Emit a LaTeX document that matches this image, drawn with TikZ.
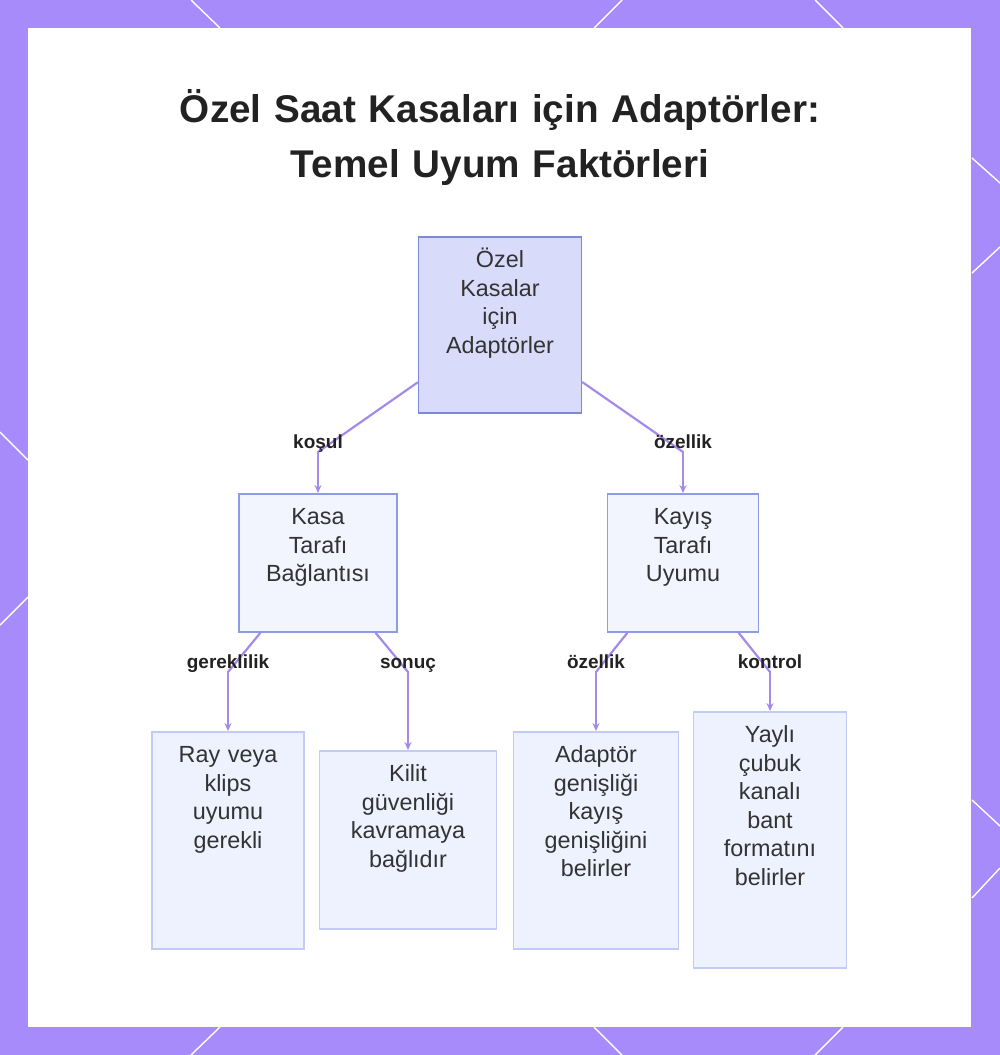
\documentclass[tikz,border=0pt]{standalone}
\usepackage{fontspec}
\setsansfont{Liberation Sans}
\usetikzlibrary{arrows.meta}
\definecolor{framepurple}{HTML}{A78BFA}
\definecolor{connline}{HTML}{A48BEB}
\definecolor{rootfill}{HTML}{D8DBFA}
\definecolor{rootline}{HTML}{7C88DA}
\definecolor{midfill}{HTML}{F2F4FE}
\definecolor{midline}{HTML}{8E9CE6}
\definecolor{leaffill}{HTML}{EEF1FE}
\definecolor{leafline}{HTML}{C2CAF6}
\definecolor{nodetext}{HTML}{333333}
\definecolor{titletext}{HTML}{222222}
\begin{document}
\begin{tikzpicture}[x=0.02cm,y=-0.02cm,
	main node/.style={rectangle,draw,anchor=north,inner sep=0pt,align=center,text height=0.62cm,line width=1.1pt,text=nodetext,font=\sffamily\fontsize{13.3}{16.2}\selectfont},
	root node/.style={main node,fill=rootfill,draw=rootline},
	mid node/.style={main node,fill=midfill,draw=midline},
	leaf node/.style={main node,fill=leaffill,draw=leafline},
	conn/.style={draw=connline,line width=1.25pt,line cap=round},
	arrowed/.style={-{Stealth[length=4.5pt,width=4pt]}},
	lbl/.style={anchor=base,yshift=2pt,inner sep=0pt,text=titletext,font=\sffamily\bfseries\fontsize{10.8}{13}\selectfont},
	slash/.style={white,line width=0.8pt}]
				\useasboundingbox (0,0) rectangle (1000,1055);
				\fill[framepurple] (0,0) rectangle (1000,1055);
				\draw[slash] (191,0) -- (220,28) (622,0) -- (594,28) (815,0) -- (843,28);
				\draw[slash] (220,1027) -- (191,1055) (594,1027) -- (622,1055) (843,1027) -- (815,1055);
				\draw[slash] (0,432) -- (28,460) (28,597) -- (0,625);
				\draw[slash] (972,158) -- (1000,183) (972,273) -- (1000,247) (972,800) -- (1000,826) (972,898) -- (1000,868);
				\fill[white] (28,28) rectangle (971,1027);

				\node[anchor=north,inner sep=0pt,align=center,text width=16cm,text height=0.68cm,text=titletext,font=\sffamily\bfseries\fontsize{22}{31.2}\selectfont] at (500,88) (title) {Özel Saat Kasaları için Adaptörler:\\Temel Uyum Faktörleri};

				\node[root node,text width=3.26cm,text depth=2.9cm] at (500,236) (root) {Özel\\Kasalar\\için\\Adaptörler};
				\node[mid node,text width=3.16cm,text depth=2.14cm] at (318,493) (kasa) {Kasa\\Tarafı\\Bağlantısı};
				\node[mid node,text width=3.02cm,text depth=2.14cm] at (683,493) (kayis) {Kayış\\Tarafı\\Uyumu};
				\node[leaf node,text width=3.04cm,text depth=3.72cm] at (228,731) (ray) {Ray veya\\klips\\uyumu\\gerekli};
				\node[leaf node,text width=3.54cm,text depth=2.94cm] at (408,750) (kilit) {Kilit\\güvenliği\\kavramaya\\bağlıdır};
				\node[leaf node,text width=3.30cm,text depth=3.72cm] at (596,731) (genislik) {Adaptör\\genişliği\\kayış\\genişliğini\\belirler};
				\node[leaf node,text width=3.06cm,text depth=4.5cm] at (770,711) (yayli) {Yaylı\\çubuk\\kanalı\\bant\\formatını\\belirler};

				\coordinate (k1) at (318,452);
				\coordinate (k2) at (683,452);
				\coordinate (k3) at (228,672);
				\coordinate (k4) at (408,672);
				\coordinate (k5) at (596,672);
				\coordinate (k6) at (770,672);

				\path[conn]
					(root) edge node[lbl,at end] {koşul} (k1)
					(k1) edge[arrowed] (kasa)
					(root) edge node[lbl,at end] {özellik} (k2)
					(k2) edge[arrowed] (kayis)
					(kasa) edge node[lbl,at end] {gereklilik} (k3)
					(k3) edge[arrowed] (ray)
					(kasa) edge node[lbl,at end] {sonuç} (k4)
					(k4) edge[arrowed] (kilit)
					(kayis) edge node[lbl,at end] {özellik} (k5)
					(k5) edge[arrowed] (genislik)
					(kayis) edge node[lbl,at end] {kontrol} (k6)
					(k6) edge[arrowed] (yayli)
					;
\end{tikzpicture}
\end{document}
